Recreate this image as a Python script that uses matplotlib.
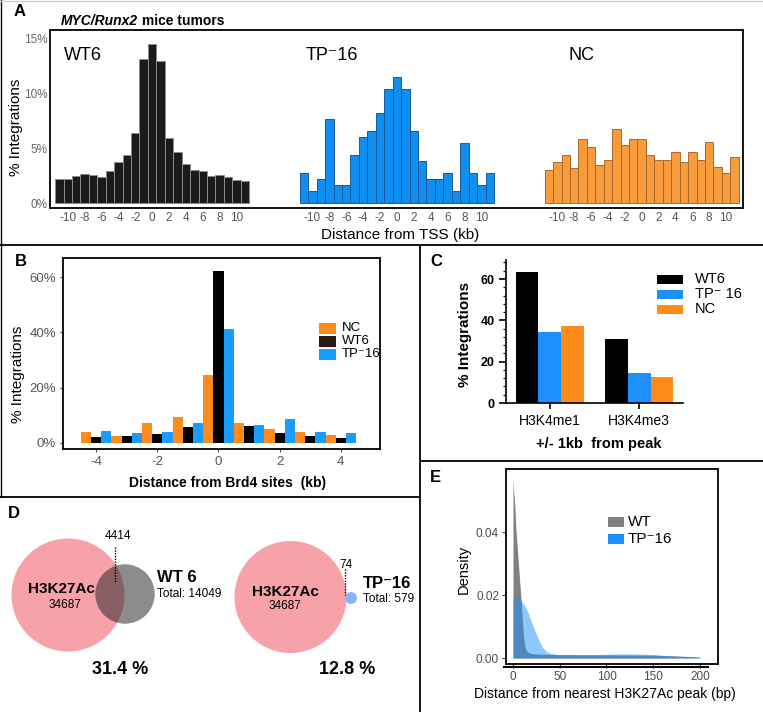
import matplotlib
matplotlib.use('Agg')
import matplotlib.pyplot as plt
from matplotlib.patches import Circle, Rectangle
from matplotlib.ticker import MultipleLocator
import numpy as np

plt.rcParams['font.family'] = ['Liberation Sans', 'DejaVu Sans']

W, H = 763, 712

# ---- data ----
# A: % integrations vs distance from TSS (kb), 1 kb bins
tss_bins = list(range(-11, 12))
tss_ticks = list(range(-10, 11, 2))
tss_wt6 = [2.18, 2.21, 2.42, 2.67, 2.58, 2.36, 2.88, 3.70, 4.33, 6.36, 13.12, 14.45,
           12.94, 5.91, 4.64, 3.52, 2.97, 2.88, 2.48, 2.58, 2.39, 2.12, 2.03]
tss_tp16 = [2.70, 1.06, 2.15, 7.64, 1.61, 1.61, 4.36, 6.00, 6.55, 8.18, 10.36, 11.45,
            10.36, 6.55, 3.82, 2.15, 2.15, 2.70, 1.06, 5.45, 2.70, 1.61, 2.70]
tss_nc = [3.00, 3.70, 4.39, 3.21, 5.82, 5.12, 3.48, 3.91, 6.76, 5.30, 5.82, 5.82,
          4.39, 3.91, 3.91, 4.64, 3.70, 4.64, 3.91, 5.58, 3.24, 2.76, 4.18]

# B: % integrations vs distance from Brd4 sites (kb)
brd4_bins = list(range(-4, 5))
brd4_nc = [4.1, 2.6, 7.2, 9.4, 24.5, 7.3, 4.9, 3.8, 2.8]
brd4_wt6 = [2.2, 2.6, 3.2, 5.7, 62.3, 6.1, 3.6, 2.4, 1.8]
brd4_tp16 = [4.3, 3.5, 4.0, 7.1, 41.2, 6.6, 8.8, 4.0, 3.5]

# C: % integrations +/- 1kb from peak
marks = ['H3K4me1', 'H3K4me3']
peak_wt6 = [63.6, 31.1]
peak_tp16 = [34.5, 14.4]
peak_nc = [37.1, 12.7]

# D: overlap with H3K27Ac peaks
h3k27ac_total = 34687
wt6_total, wt6_overlap, wt6_pct = 14049, 4414, 31.4
tp16_total, tp16_overlap, tp16_pct = 579, 74, 12.8

# E: density of distance to nearest H3K27Ac peak (bp)
wt_x = [0, 1, 2, 3, 4, 5, 6, 7, 8, 9, 10, 11, 12, 13, 14, 16, 20, 30, 50, 100, 150, 180, 200]
wt_y = [0.057, 0.052, 0.048, 0.0415, 0.037, 0.033, 0.029, 0.025, 0.021, 0.017, 0.012,
        0.008, 0.005, 0.0033, 0.0025, 0.0018, 0.0014, 0.0012, 0.0011, 0.0010, 0.0009,
        0.0006, 0.0003]
tp_x = [0, 4, 8, 12, 16, 20, 24, 28, 32, 36, 41, 52, 75, 100, 125, 150, 175, 200]
tp_y = [0.0195, 0.0193, 0.0186, 0.0168, 0.0145, 0.0112, 0.0082, 0.0055, 0.0032, 0.0020,
        0.0014, 0.0010, 0.0009, 0.0012, 0.0013, 0.0011, 0.0006, 0.0001]

ORANGE = '#ff8c1a'
BLUE = '#1a9cff'
TP = 'TP\u207b16'


def frac(x0, y0, x1, y1):
    # pixel box (top-left origin) -> figure fraction
    return [x0 / W, 1 - y1 / H, (x1 - x0) / W, (y1 - y0) / H]


fig = plt.figure(figsize=(W / 100, H / 100), dpi=100)
# overlay in pixel coords for borders, labels, legends and the venn panel
bg = fig.add_axes([0, 0, 1, 1])
bg.set_xlim(0, W)
bg.set_ylim(H, 0)
bg.axis('off')
bg.set_zorder(10)

# panel borders
lk = dict(color='black', lw=1.3, solid_capstyle='butt')
bg.plot([0, W], [245, 245], **lk)
bg.plot([420, 420], [245, H], **lk)
bg.plot([420, W], [461, 461], **lk)
bg.plot([0, 420], [497, 497], **lk)
bg.plot([0.7, 0.7], [0, 497], color='black', lw=1)
bg.plot([0, W], [0.7, 0.7], color='#cccccc', lw=1)

for lab, x, y in [('A', 14, 12), ('B', 15, 262), ('C', 430, 261), ('D', 8, 513), ('E', 430, 477)]:
    bg.text(x, y, lab, fontsize=12, fontweight='bold', ha='left', va='center')

# ---- A ----
axA = fig.add_axes(frac(50, 30, 743, 208))
offsets = [0, 29, 58]
styles = [(tss_wt6, '#1b1b1b', '#8c8c8c'), (tss_tp16, '#0f8ff2', '#1a5a99'),
          (tss_nc, '#f89b3a', '#a8692e')]
xt, xl = [], []
for off, (vals, fc, ec) in zip(offsets, styles):
    axA.bar(np.array(tss_bins) + off, vals, width=1, color=fc, edgecolor=ec, linewidth=0.7)
    xt += [t + off for t in tss_ticks]
    xl += [str(t) for t in tss_ticks]
axA.set_xticks(xt, xl)
axA.set_yticks([0, 5, 10, 15], ['0%', '5%', '10%', '15%'])
axA.set_xlim(-12.1, 70)
axA.set_ylim(-0.45, 15.75)
axA.tick_params(axis='x', length=0, pad=3, labelsize=8.5, labelcolor='#555555')
axA.tick_params(axis='y', length=0, pad=2, labelsize=8.5, labelcolor='#666666')
for s in axA.spines.values():
    s.set_linewidth(1.3)

bg.text(64, 55, 'WT6', fontsize=13, va='center')
bg.text(306, 55, TP, fontsize=13, va='center')
bg.text(568, 55, 'NC', fontsize=13, va='center')

t1 = bg.text(61, 25, 'MYC/Runx2', fontsize=10, fontweight='bold', fontstyle='italic', va='baseline')
fig.canvas.draw()
bb = t1.get_window_extent(fig.canvas.get_renderer())
bg.text(bb.x1, 25, ' mice tumors', fontsize=10, fontweight='bold', va='baseline')

bg.text(16, 127, '% Integrations', rotation=90, fontsize=11, ha='center', va='center')
bg.text(400, 235, 'Distance from TSS (kb)', fontsize=11, ha='center', va='center')

# ---- B ----
axB = fig.add_axes(frac(63, 258, 380, 449))
pos = np.array(brd4_bins)
bw = 1 / 3
axB.bar(pos - bw, brd4_nc, width=bw, color=ORANGE)
axB.bar(pos, brd4_wt6, width=bw, color='black')
axB.bar(pos + bw, brd4_tp16, width=bw, color=BLUE)
axB.set_xlim(-5.08, 5.28)
axB.set_ylim(-2.17, 66.9)
axB.set_xticks([-4, -2, 0, 2, 4], ['-4', '-2', '0', '2', '4'])
axB.set_yticks([0, 20, 40, 60], ['0%', '20%', '40%', '60%'])
axB.tick_params(length=2, color='#555555', pad=3, labelsize=9.5, labelcolor='#555555')
for s in axB.spines.values():
    s.set_linewidth(1.3)

for lab, col, yc in [('NC', ORANGE, 328), ('WT6', '#2b1a14', 341), (TP, BLUE, 354)]:
    bg.add_patch(Rectangle((319, yc - 5.5), 17, 11, color=col, lw=0))
    bg.text(342, yc, lab, fontsize=9.5, va='center')

bg.text(18, 374, '% Integrations', rotation=90, fontsize=11, ha='center', va='center')
bg.text(228, 483, 'Distance from Brd4 sites  (kb)', fontsize=10, fontweight='bold',
        ha='center', va='center')

# ---- C ----
axC = fig.add_axes(frac(506, 260, 683, 403))
xc = np.arange(len(marks))
w = 0.254
axC.bar(xc - w, peak_wt6, w, color='black')
axC.bar(xc, peak_tp16, w, color='#1f8fff')
axC.bar(xc + w, peak_nc, w, color=ORANGE)
axC.set_xlim(-0.49, 1.49)
axC.set_ylim(0, 69.2)
axC.spines['top'].set_visible(False)
axC.spines['right'].set_visible(False)
for s in ['left', 'bottom']:
    axC.spines[s].set_linewidth(1.2)
axC.set_yticks([0, 20, 40, 60], ['0', '20', '40', '60'])
for lb in axC.get_yticklabels():
    lb.set_fontweight('bold')
axC.yaxis.set_minor_locator(MultipleLocator(4))
axC.tick_params(axis='y', which='major', length=5, width=1.2, pad=3, labelsize=9)
axC.tick_params(axis='y', which='minor', length=2.5, width=0.9)
axC.set_xticks(xc, marks)
axC.tick_params(axis='x', length=4, width=1.2, pad=4, labelsize=10)

for lab, col, yc in [('WT6', 'black', 279), ('TP\u207b 16', '#1f8fff', 294), ('NC', ORANGE, 309)]:
    bg.add_patch(Rectangle((657, yc - 4.5), 26, 9, color=col, lw=0))
    bg.text(695, yc, lab, fontsize=10.5, va='center')

bg.text(465, 334, '% Integrations', rotation=90, fontsize=11, fontweight='bold',
        ha='center', va='center')
bg.text(599, 444, '+/- 1kb  from peak', fontsize=10.5, fontweight='bold', ha='center', va='center')

# ---- D ----
PINK = '#f6a2a8'
bg.add_patch(Circle((68, 595), 56.5, color=PINK, lw=0))
bg.add_patch(Circle((125, 594), 29.7, color='#262626', alpha=0.53, lw=0))
bg.plot([115, 115], [547, 583], color='black', ls=(0, (1, 1)), lw=1)
bg.text(118, 536, str(wt6_overlap), fontsize=8.5, ha='center', va='center')
bg.text(61, 589, 'H3K27Ac', fontsize=11, fontweight='bold', ha='center', va='center')
bg.text(65, 605, str(h3k27ac_total), fontsize=8.5, ha='center', va='center')
bg.text(157, 578, 'WT 6', fontsize=12, fontweight='bold', ha='left', va='center')
bg.text(157, 594, 'Total: %d' % wt6_total, fontsize=8.5, ha='left', va='center')
bg.text(120, 670, '%.1f %%' % wt6_pct, fontsize=13, fontweight='bold', ha='center', va='center')

bg.add_patch(Circle((290.5, 597), 56, color=PINK, lw=0))
bg.add_patch(Circle((351, 598), 6, color='#8ab4f8', lw=0))
bg.plot([345, 345], [569, 595], color='black', ls=(0, (1, 1)), lw=1)
bg.text(346, 565, str(tp16_overlap), fontsize=8.5, ha='center', va='center')
bg.text(285, 592, 'H3K27Ac', fontsize=11, fontweight='bold', ha='center', va='center')
bg.text(285, 606, str(h3k27ac_total), fontsize=8.5, ha='center', va='center')
bg.text(363, 583, TP, fontsize=12, fontweight='bold', ha='left', va='center')
bg.text(363, 599, 'Total: %d' % tp16_total, fontsize=8.5, ha='left', va='center')
bg.text(347, 670, '%.1f %%' % tp16_pct, fontsize=13, fontweight='bold', ha='center', va='center')

# ---- E ----
axE = fig.add_axes(frac(506, 469, 718, 664))
axE.fill_between(wt_x, wt_y, color='#808080', lw=0)
axE.fill_between(tp_x, tp_y, color='#1e90ff', alpha=0.5, lw=0)
axE.set_xlim(-7.5, 219.3)
axE.set_ylim(-0.0019, 0.06)
axE.set_xticks([0, 50, 100, 150, 200], ['0', '50', '100', '150', '200'])
axE.set_yticks([0, 0.02, 0.04], ['0.00', '0.02', '0.04'])
axE.tick_params(length=3, color='#333333', pad=2, labelsize=8.5, labelcolor='#4d4d4d')
for s in axE.spines.values():
    s.set_linewidth(1.3)
bg.plot([504, 708], [667, 667], color='black', lw=1.5)

bg.add_patch(Rectangle((608, 517), 16, 10, color='#808080', lw=0))
bg.text(628, 522, 'WT', fontsize=11, va='center')
bg.add_patch(Rectangle((608, 534), 16, 10, color='#1e90ff', lw=0))
bg.text(628, 539, TP, fontsize=11, va='center')

bg.text(464, 569, 'Density', rotation=90, fontsize=10.5, ha='center', va='center')
bg.text(605, 694, 'Distance from nearest H3K27Ac peak (bp)', fontsize=10, ha='center', va='center')

fig.savefig('out.png', dpi=100)
